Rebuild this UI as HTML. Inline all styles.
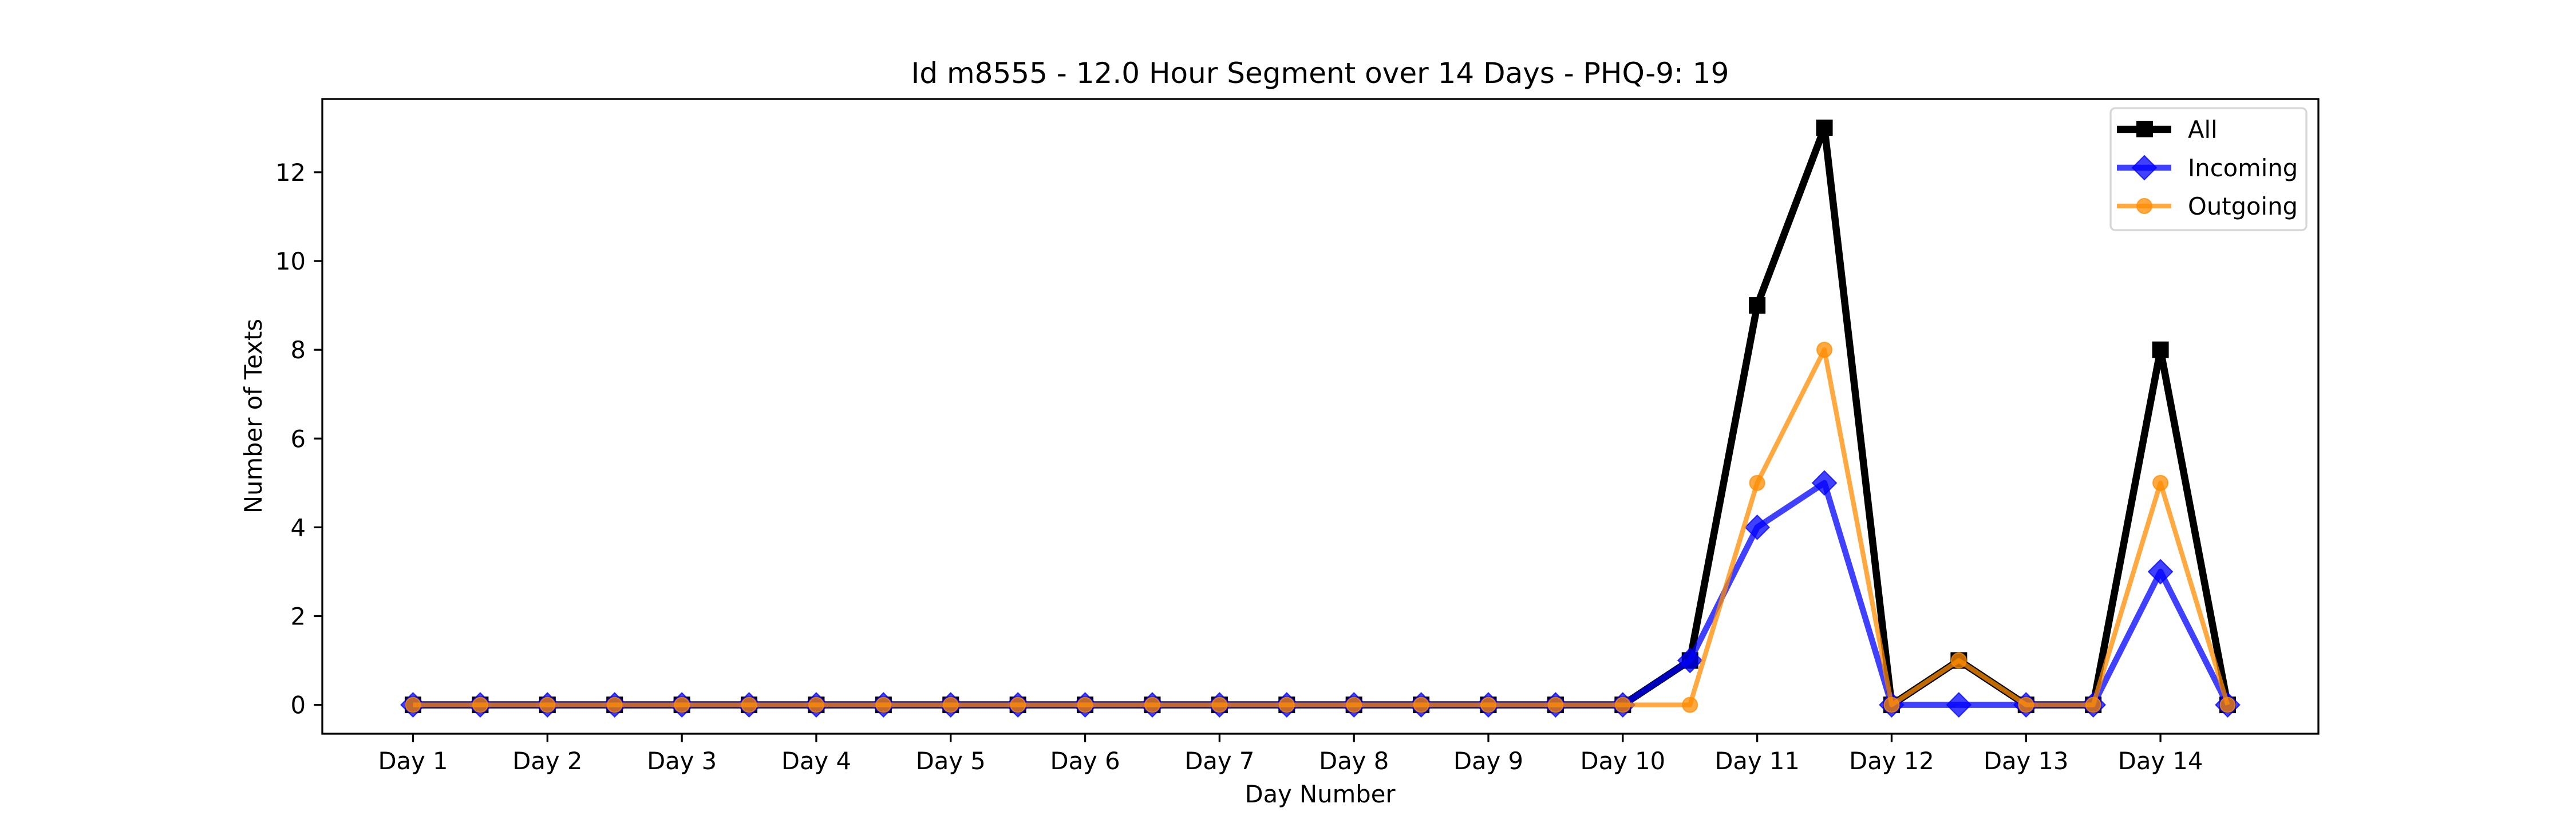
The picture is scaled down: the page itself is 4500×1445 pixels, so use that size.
<!DOCTYPE html>
<html><head><meta charset="utf-8"><style>
body{margin:0;background:#fff;}
svg text{font-family:"DejaVu Sans","Liberation Sans",sans-serif;fill:#000;}
</style></head><body>
<svg id="chart" width="4500" height="1440" xmlns="http://www.w3.org/2000/svg">
<rect width="4500" height="1440" fill="#fff"/>
<text x="2306" y="145" font-size="50" text-anchor="middle">Id m8555 - 12.0 Hour Segment over 14 Days - PHQ-9: 19</text>
<text x="2306" y="1402" font-size="41.7" text-anchor="middle">Day Number</text>
<text x="0" y="0" font-size="41.7" text-anchor="middle" transform="translate(457,727) rotate(-90)">Number of Texts</text>
<g id="grid"></g>
<g id="series"></g>
<rect x="563" y="173" width="3487" height="1109" fill="none" stroke="#000" stroke-width="3.3"/>
<g transform="translate(0,-8)">
<rect x="3687" y="197" width="342" height="213" rx="8" fill="#fff" fill-opacity="0.8" stroke="#d6d6d6" stroke-width="3.3"/>
<g>
<line x1="3698" y1="234" x2="3793" y2="234" stroke="#000" stroke-width="12.5"/>
<rect x="3732" y="219" width="29" height="29" fill="#000"/>
<text x="3822" y="249" font-size="41.7">All</text></g>
<g>
<line x1="3698" y1="301" x2="3793" y2="301" stroke="#0000ff" stroke-opacity="0.75" stroke-width="10.5"/>
<polygon points="3746,280 3767,301 3746,322 3725,301" fill="#0000ff" fill-opacity="0.75" stroke="#0000ff" stroke-opacity="0.75" stroke-width="2"/>
<text x="3822" y="316" font-size="41.7">Incoming</text></g>
<g>
<line x1="3698" y1="368" x2="3793" y2="368" stroke="#ff8c00" stroke-opacity="0.75" stroke-width="8.3"/>
<circle cx="3746" cy="368" r="13" fill="#ff8c00" fill-opacity="0.75" stroke="#ff8c00" stroke-opacity="0.75" stroke-width="2"/>
<text x="3822" y="383" font-size="41.7">Outgoing</text></g>
</g>
</svg>
<script>
const dayLabels = ["Day 1","Day 2","Day 3","Day 4","Day 5","Day 6","Day 7","Day 8","Day 9","Day 10","Day 11","Day 12","Day 13","Day 14"];
const yTicks = [0,2,4,6,8,10,12];
const allValues = [0,0,0,0,0,0,0,0,0,0,0,0,0,0,0,0,0,0,0,1,9,13,0,1,0,0,8,0];
const incomingValues = [0,0,0,0,0,0,0,0,0,0,0,0,0,0,0,0,0,0,0,1,4,5,0,0,0,0,3,0];
const outgoingValues = [0,0,0,0,0,0,0,0,0,0,0,0,0,0,0,0,0,0,0,0,5,8,0,1,0,0,5,0];

const NS="http://www.w3.org/2000/svg";
const L=563,R=4050,T=173,B=1282;
const n=allValues.length;
const xmin=-0.05*(n-1), xmax=(n-1)*1.05;
const all=allValues.concat(incomingValues,outgoingValues);
const dmax=Math.max(...all), dmin=Math.min(...all);
const ymin=dmin-0.05*(dmax-dmin), ymax=dmax+0.05*(dmax-dmin);
function xs(i){return L+(i-xmin)/(xmax-xmin)*(R-L);}
function ys(v){return B-(v-ymin)/(ymax-ymin)*(B-T);}
function mk(tag,attrs,parent){const e=document.createElementNS(NS,tag);for(const k in attrs)e.setAttribute(k,attrs[k]);parent.appendChild(e);return e;}
const grid=document.getElementById('grid');
dayLabels.forEach((d,k)=>{
  const x=xs(k*2);
  const t=mk('line',{x1:x,y1:B,x2:x,y2:B+14.5,stroke:'#000','stroke-width':3.3},grid);
  
  
  const tx=mk('text',{x:x,y:B+62,'font-size':41.7,'text-anchor':'middle'},grid);
  tx.textContent=d;
  
  
});
yTicks.forEach(v=>{
  const y=ys(v);
  const t=mk('line',{x1:L-14.5,y1:y,x2:L,y2:y,stroke:'#000','stroke-width':3.3},grid);
  
  
  const tx=mk('text',{x:L-29,y:y+15,'font-size':41.7,'text-anchor':'end'},grid);
  tx.textContent=v;
  
  
});
const sg=document.getElementById('series');
function drawSeries(vals,color,op,lw,marker,name){
  const g=mk('g',{},sg);
  
  
  const pts=vals.map((v,i)=>xs(i)+','+ys(v)).join(' ');
  mk('polyline',{points:pts,fill:'none',stroke:color,'stroke-opacity':op,'stroke-width':lw,'stroke-linejoin':'round'},g);
  vals.forEach((v,i)=>{
    const x=xs(i),y=ys(v);let m;
    if(marker==='s') m=mk('rect',{x:x-14.5,y:y-14.5,width:29,height:29,fill:color},g);
    else if(marker==='d') m=mk('polygon',{points:`${x},${y-21} ${x+21},${y} ${x},${y+21} ${x-21},${y}`,fill:color,'fill-opacity':op,stroke:color,'stroke-opacity':op,'stroke-width':2},g);
    else m=mk('circle',{cx:x,cy:y,r:13,fill:color,'fill-opacity':op,stroke:color,'stroke-opacity':op,'stroke-width':2},g);
    
    
  });
}
drawSeries(allValues,'#000',1,12.5,'s','series-all');
drawSeries(incomingValues,'#0000ff',0.75,10.5,'d','series-incoming');
drawSeries(outgoingValues,'#ff8c00',0.75,8.3,'o','series-outgoing');
</script>
</body></html>
